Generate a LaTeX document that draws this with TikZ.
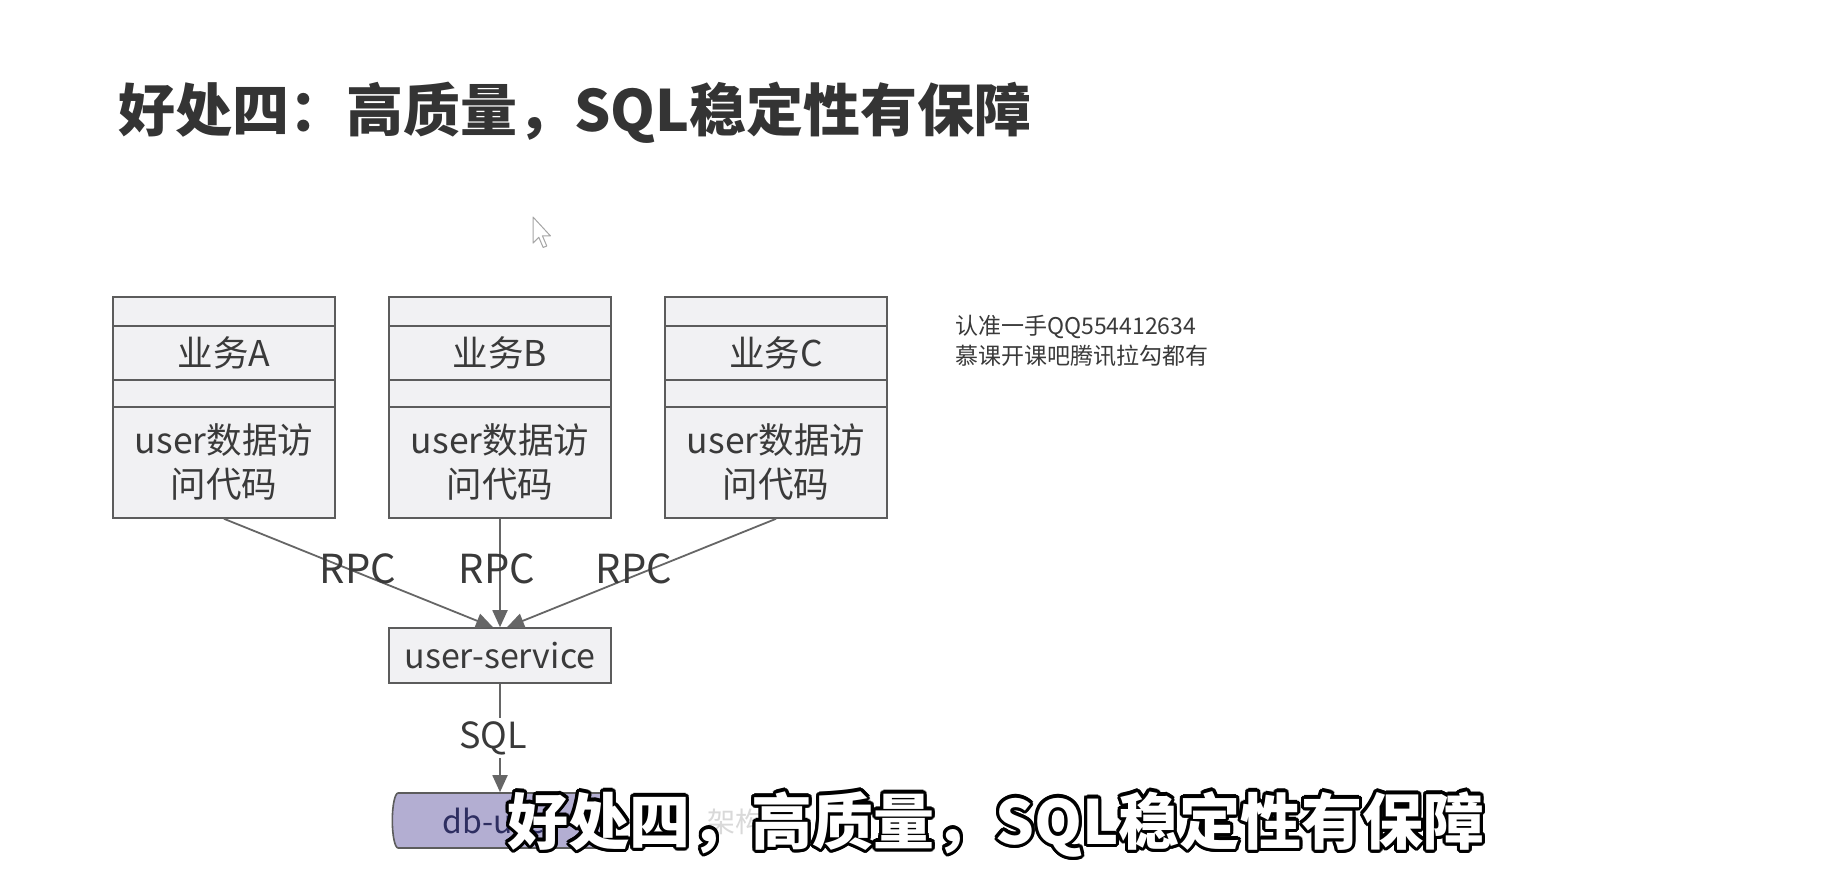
\documentclass[tikz,border=0pt]{standalone}
\usepackage{fontspec}
\setmainfont{Noto Sans CJK SC}
\usetikzlibrary{shapes.geometric,arrows.meta,calc}

\definecolor{ink}{HTML}{3A3A3A}
\definecolor{frame}{HTML}{5C5C5C}
\definecolor{cell}{HTML}{F1F1F3}
\definecolor{wire}{HTML}{666666}
\definecolor{dbfill}{HTML}{B3AED2}

\begin{document}
\begin{tikzpicture}[x=1pt,y=-1pt,
  cellbox/.style={draw=frame, line width=1.6pt, fill=cell, minimum width=222pt,
    inner sep=0pt, text=ink, align=center, font=\fontsize{35.5}{44}\selectfont},
  flow/.style={draw=wire, line width=1.8pt, -{Triangle[length=17pt,width=15pt]}},
  tag/.style={text=ink, inner sep=1pt, font=\fontsize{40}{44}\selectfont},
  note/.style={text=ink, anchor=west, inner sep=0pt, font=\fontsize{23}{26}\selectfont},
  capstroke/.style={text=black, inner sep=0pt, font=\fontsize{61}{70}\selectfont\bfseries},
  capfill/.style={text=white, inner sep=0pt, font=\fontsize{61}{70}\selectfont\bfseries}]

% page
\fill[white] (0,0) rectangle (1847,894);
\useasboundingbox (0,0) rectangle (1847,894);

% heading
\node[anchor=west, inner sep=0pt, text=ink!90!black,
      font=\fontsize{57}{66}\selectfont\bfseries] (title) at (118,113)
      {好处四：高质量，SQL稳定性有保障};

% mouse pointer
\filldraw[fill=white, draw=gray!70, line width=1pt, line join=round, shift={(533,217)}, scale=1.45]
  (0,0) -- (0,18) -- (4,14) -- (7,21) -- (9.5,20) -- (6.5,13) -- (12,13) -- cycle;

% business stacks
\foreach \n/\cx/\lbl in {A/224/业务A, B/500/业务B, C/776/业务C}{
  \node[cellbox, minimum height=29pt] (top\n) at (\cx,311.5) {};
  \node[cellbox, minimum height=54pt] (lab\n) at (\cx,353) {\lbl};
  \node[cellbox, minimum height=27pt] (gap\n) at (\cx,393.5) {};
  \node[cellbox, minimum height=111pt] (code\n) at (\cx,462.5) {user数据访\\问代码};
}

% service and database
\node[cellbox, minimum height=55pt, font=\fontsize{34}{40}\selectfont] (svc) at (500,655.5) {user-service};
\node[cylinder, shape border rotate=0, aspect=0.45, draw=frame, line width=1.6pt,
      cylinder uses custom fill, cylinder body fill=dbfill, cylinder end fill=dbfill,
      minimum height=222pt, minimum width=55pt, inner sep=0pt, text=ink!80!blue,
      font=\fontsize{32}{40}\selectfont] (db) at (500,820.5) {db-user};

% calls
\draw[flow] (codeA.south) -- ([xshift=-7pt]svc.north);
\draw[flow] (codeB.south) -- (svc.north);
\draw[flow] (codeC.south) -- ([xshift=7pt]svc.north);
\node[tag] (rpcA) at (358,569) {RPC};
\node[tag] (rpcB) at (497,569) {RPC};
\node[tag] (rpcC) at (634,569) {RPC};
\draw[flow] (svc.south) -- node[tag, fill=white, xshift=-7pt, inner sep=3pt,
      font=\fontsize{36}{40}\selectfont] (sql) {SQL} (db.north);

% side note
\node[note] (note1) at (955,327) {认准一手QQ554412634};
\node[note] (note2) at (955,356) {慕课开课吧腾讯拉勾都有};

% faint mark behind the caption
\node[text=gray!30, inner sep=0pt, font=\fontsize{28}{30}\selectfont] (mark) at (735,822) {架构};

% outlined caption
\foreach \k [count=\i] in {0,22.5,...,337.5}{
  \node[capstroke] (cap\i) at ($(996,824)+(\k:3.2pt)$) {好处四，高质量，SQL稳定性有保障};
}
\node[capfill] (caption) at (996,824) {好处四，高质量，SQL稳定性有保障};

\end{tikzpicture}
\end{document}
